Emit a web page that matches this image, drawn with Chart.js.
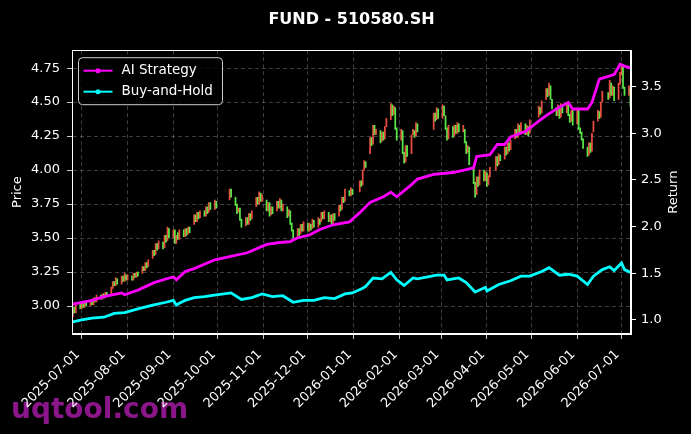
<!DOCTYPE html>
<html>
<head>
<meta charset="utf-8">
<script src="https://cdn.jsdelivr.net/npm/chart.js@4.4.0/dist/chart.umd.min.js"></script>
<style>
    html, body { margin: 0; padding: 0; background: #000; }
    #chart { display: block; }
</style>
</head>
<body>
<canvas id="chart" width="691" height="434"></canvas>
<script>
// Calendar
const firstDay = '2025-06-25'
const lastDay = '2026-07-07'
const holidays = [
    '2025-10-01', '2025-10-02', '2025-10-03', '2025-10-06', '2025-10-07', '2025-10-08',
    '2026-01-01', '2026-01-02',
    '2026-02-16', '2026-02-17', '2026-02-18', '2026-02-19', '2026-02-20', '2026-02-23',
    '2026-04-06', '2026-05-01', '2026-05-04', '2026-05-05', '2026-06-19'
]
const monthTicks = [
    '2025-07-01', '2025-08-01', '2025-09-01', '2025-10-01', '2025-11-01', '2025-12-01',
    '2026-01-01', '2026-02-01', '2026-03-01', '2026-04-01', '2026-05-01', '2026-06-01', '2026-07-01'
]
const priceTicks = [3.00, 3.25, 3.50, 3.75, 4.00, 4.25, 4.50, 4.75]
const returnTicks = [1.0, 1.5, 2.0, 2.5, 3.0, 3.5]

// Daily candles, one line per month
const opens = [
    2.92, 2.99, 2.95, 3.02,
    2.98, 3.02, 2.99, 3.03, 3.00, 3.03, 3.01, 3.06, 3.03, 3.08, 3.05, 3.09, 3.06, 3.10, 3.09, 3.13, 3.18, 3.15, 3.20, 3.16, 3.22, 3.18, 3.23,
    3.19, 3.22, 3.19, 3.24, 3.21, 3.25, 3.24, 3.29, 3.26, 3.32, 3.29, 3.35, 3.41, 3.38, 3.46, 3.42, 3.47, 3.43, 3.52, 3.48, 3.57,
    3.50, 3.56, 3.46, 3.54, 3.49, 3.56, 3.51, 3.57, 3.53, 3.58, 3.60, 3.67, 3.62, 3.69, 3.65, 3.70, 3.66, 3.73, 3.69, 3.76, 3.71, 3.77,
    3.78, 3.86, 3.80, 3.75, 3.69, 3.72, 3.64, 3.59, 3.65, 3.60, 3.68, 3.64, 3.73, 3.80, 3.75, 3.83, 3.77,
    3.78, 3.70, 3.76, 3.67, 3.73, 3.70, 3.77, 3.72, 3.78, 3.70, 3.73, 3.66, 3.70, 3.61, 3.56, 3.51, 3.57, 3.53, 3.60, 3.55,
    3.61, 3.55, 3.60, 3.57, 3.63, 3.58, 3.64, 3.62, 3.69, 3.64, 3.69, 3.62, 3.67, 3.61, 3.68, 3.66, 3.74, 3.71, 3.80, 3.77, 3.85, 3.81, 3.86,
    3.84, 3.92, 3.89, 4.00, 4.06, 4.12, 4.24, 4.19, 4.33, 4.26, 4.29, 4.21, 4.28, 4.23, 4.32, 4.37, 4.48, 4.41, 4.46, 4.31,
    4.22, 4.29, 4.13, 4.06, 4.18, 4.12, 4.26, 4.29, 4.25, 4.34, 4.30, 4.42, 4.37, 4.45,
    4.38, 4.47, 4.40, 4.31, 4.23, 4.32, 4.25, 4.33, 4.27, 4.34, 4.28, 4.30, 4.21, 4.13, 4.17, 4.02, 3.91, 3.82, 3.95, 3.89, 4.00, 3.92,
    3.98, 3.89, 3.95, 4.00, 4.10, 4.04, 4.11, 4.08, 4.17, 4.12, 4.20, 4.15, 4.23, 4.30, 4.24, 4.33, 4.28, 4.34, 4.26, 4.32, 4.27,
    4.39, 4.46, 4.42, 4.52, 4.60, 4.55, 4.62, 4.52, 4.46, 4.40, 4.47, 4.39, 4.48, 4.42, 4.49, 4.41, 4.36, 4.44,
    4.34, 4.44, 4.31, 4.28, 4.23, 4.17, 4.11, 4.20, 4.14, 4.28, 4.36, 4.43, 4.39, 4.50, 4.57, 4.53, 4.64, 4.55, 4.61, 4.52, 4.63,
    4.70, 4.76, 4.61, 4.55, 4.60
]
const closes = [
    2.98, 2.95, 3.01, 2.98,
    3.02, 2.99, 3.03, 3.00, 3.04, 3.01, 3.06, 3.03, 3.08, 3.05, 3.09, 3.06, 3.10, 3.07, 3.14, 3.18, 3.15, 3.21, 3.16, 3.22, 3.18, 3.24, 3.19,
    3.23, 3.19, 3.24, 3.21, 3.25, 3.22, 3.29, 3.26, 3.32, 3.28, 3.34, 3.41, 3.37, 3.46, 3.41, 3.48, 3.42, 3.52, 3.47, 3.58, 3.50,
    3.56, 3.46, 3.52, 3.49, 3.56, 3.51, 3.57, 3.52, 3.58, 3.54, 3.67, 3.62, 3.69, 3.64, 3.70, 3.66, 3.73, 3.68, 3.76, 3.71, 3.78, 3.72,
    3.86, 3.80, 3.74, 3.68, 3.72, 3.63, 3.58, 3.65, 3.60, 3.68, 3.63, 3.70, 3.80, 3.75, 3.84, 3.77, 3.82,
    3.70, 3.76, 3.66, 3.73, 3.68, 3.77, 3.72, 3.79, 3.70, 3.75, 3.65, 3.71, 3.60, 3.55, 3.50, 3.57, 3.52, 3.60, 3.55, 3.62,
    3.55, 3.61, 3.56, 3.64, 3.58, 3.65, 3.60, 3.69, 3.64, 3.70, 3.62, 3.67, 3.60, 3.68, 3.63, 3.74, 3.70, 3.80, 3.76, 3.86, 3.81, 3.87, 3.82,
    3.92, 3.88, 4.00, 4.07, 4.02, 4.24, 4.18, 4.33, 4.26, 4.30, 4.20, 4.28, 4.22, 4.32, 4.38, 4.49, 4.40, 4.47, 4.30, 4.22,
    4.30, 4.12, 4.05, 4.18, 4.10, 4.26, 4.30, 4.24, 4.35, 4.28, 4.42, 4.36, 4.46, 4.38,
    4.48, 4.40, 4.30, 4.22, 4.33, 4.24, 4.33, 4.27, 4.35, 4.28, 4.33, 4.20, 4.12, 4.18, 4.04, 3.90, 3.80, 3.95, 3.88, 4.00, 3.92, 3.99,
    3.88, 3.96, 4.02, 4.10, 4.03, 4.12, 4.07, 4.17, 4.11, 4.21, 4.14, 4.22, 4.30, 4.24, 4.34, 4.27, 4.35, 4.26, 4.33, 4.25, 4.37,
    4.47, 4.41, 4.51, 4.60, 4.54, 4.64, 4.52, 4.45, 4.40, 4.48, 4.38, 4.49, 4.42, 4.50, 4.40, 4.35, 4.44, 4.33,
    4.45, 4.30, 4.27, 4.22, 4.16, 4.10, 4.20, 4.13, 4.27, 4.36, 4.44, 4.38, 4.50, 4.58, 4.52, 4.66, 4.55, 4.62, 4.51, 4.64, 4.72,
    4.78, 4.60, 4.55, 4.62, 4.47
]

// Strategy curves (right axis)
const aiDates = [
    '2025-06-25', '2025-07-08', '2025-07-16', '2025-07-28', '2025-07-30', '2025-08-08', '2025-08-19', '2025-08-29',
    '2025-09-01', '2025-09-03', '2025-09-09', '2025-09-15', '2025-09-29', '2025-10-09', '2025-10-21', '2025-11-03',
    '2025-11-12', '2025-11-19', '2025-11-24', '2025-12-02', '2025-12-09', '2025-12-18', '2025-12-29', '2026-01-05',
    '2026-01-12', '2026-01-21', '2026-01-26', '2026-01-30', '2026-02-09', '2026-02-13', '2026-02-24', '2026-03-09',
    '2026-03-18', '2026-03-23', '2026-03-25', '2026-04-03', '2026-04-08', '2026-04-13', '2026-04-17', '2026-04-27',
    '2026-05-06', '2026-05-12', '2026-05-15', '2026-05-20', '2026-05-26', '2026-05-29', '2026-06-08', '2026-06-11',
    '2026-06-16', '2026-06-22', '2026-06-26', '2026-06-30', '2026-07-03', '2026-07-07'
]
const aiValues = [
    1.17, 1.21, 1.25, 1.29, 1.27, 1.32, 1.40, 1.45,
    1.46, 1.43, 1.52, 1.55, 1.645, 1.68, 1.72, 1.81,
    1.83, 1.84, 1.88, 1.91, 1.97, 2.02, 2.05, 2.15,
    2.26, 2.32, 2.37, 2.32, 2.45, 2.51, 2.56, 2.58,
    2.61, 2.63, 2.75, 2.77, 2.88, 2.88, 2.96, 3.02,
    3.13, 3.20, 3.23, 3.28, 3.33, 3.26, 3.26, 3.33,
    3.58, 3.61, 3.63, 3.74, 3.72, 3.70
]
const bhDates = [
    '2025-06-25', '2025-07-01', '2025-07-08', '2025-07-16', '2025-07-23', '2025-07-30', '2025-08-08', '2025-08-18',
    '2025-08-27', '2025-09-01', '2025-09-03', '2025-09-05', '2025-09-09', '2025-09-15', '2025-09-22', '2025-09-30',
    '2025-10-10', '2025-10-17', '2025-10-24', '2025-10-31', '2025-11-07', '2025-11-14', '2025-11-21', '2025-11-28',
    '2025-12-05', '2025-12-12', '2025-12-19', '2025-12-26', '2025-12-31', '2026-01-07', '2026-01-09', '2026-01-14',
    '2026-01-20', '2026-01-26', '2026-01-30', '2026-02-04', '2026-02-10', '2026-02-13', '2026-02-26', '2026-03-03',
    '2026-03-05', '2026-03-13', '2026-03-18', '2026-03-24', '2026-03-31', '2026-04-01', '2026-04-09', '2026-04-17',
    '2026-04-24', '2026-04-30', '2026-05-08', '2026-05-13', '2026-05-20', '2026-05-26', '2026-06-01', '2026-06-08',
    '2026-06-12', '2026-06-18', '2026-06-23', '2026-06-26', '2026-07-01', '2026-07-03', '2026-07-07'
]
const bhValues = [
    0.98, 1.00, 1.02, 1.03, 1.07, 1.08, 1.12, 1.16,
    1.19, 1.21, 1.16, 1.18, 1.21, 1.24, 1.25, 1.27,
    1.29, 1.22, 1.24, 1.28, 1.25, 1.26, 1.19, 1.21,
    1.21, 1.24, 1.23, 1.28, 1.29, 1.34, 1.36, 1.45,
    1.44, 1.51, 1.43, 1.37, 1.45, 1.44, 1.48, 1.48,
    1.43, 1.45, 1.40, 1.30, 1.35, 1.31, 1.38, 1.42,
    1.47, 1.47, 1.52, 1.56, 1.48, 1.49, 1.47, 1.38,
    1.47, 1.54, 1.57, 1.53, 1.61, 1.54, 1.51
]

const dayMs = 86400000
const origin = Date.UTC(2025, 6, 1)
const dayNum = (s) => {
    const [y, m, d] = s.split('-').map(Number)
    return (Date.UTC(y, m - 1, d) - origin) / dayMs
}

const tradingDays = []
for (let d = dayNum(firstDay); d <= dayNum(lastDay); d++) {
    const date = new Date(origin + d * dayMs)
    const wd = date.getUTCDay()
    if (wd === 0 || wd === 6 || holidays.includes(date.toISOString().slice(0, 10))) continue
    tradingDays.push(d)
}
if (tradingDays.length !== opens.length || opens.length !== closes.length) {
    console.log('length mismatch', tradingDays.length, opens.length, closes.length)
}

const candles = tradingDays.map((d, i) => ({ x: d, y: [opens[i], closes[i]] }))
const aiPoints = aiDates.map((s, i) => ({ x: dayNum(s), y: aiValues[i] }))
const bhPoints = bhDates.map((s, i) => ({ x: dayNum(s), y: bhValues[i] }))

const white = '#ffffff'
const gridColor = 'rgba(255, 255, 255, 0.3)'
const font = { family: 'DejaVu Sans', size: 13 }
// red = up, green = down (A-share convention)
const upColor = 'rgba(255, 85, 70, 0.9)'
const downColor = 'rgba(100, 255, 80, 0.9)'

const backdrop = {
    id: 'backdrop',
    beforeDraw: (chart) => {
        const ctx = chart.ctx
        ctx.save()
        ctx.fillStyle = '#000'
        ctx.fillRect(0, 0, chart.width, chart.height)
        ctx.fillStyle = '#8a168a'
        ctx.font = 'bold 28px "DejaVu Sans"'
        ctx.textBaseline = 'alphabetic'
        ctx.fillText('uqtool.com', 11, 418)
        ctx.restore()
    }
}

const frameAndLegend = {
    id: 'frameAndLegend',
    afterDraw: (chart) => {
        const ctx = chart.ctx
        const { left, top, right, bottom } = chart.chartArea
        ctx.save()
        ctx.strokeStyle = white
        ctx.lineWidth = 1
        ctx.strokeRect(Math.round(left) + 0.5, Math.round(top) + 0.5, Math.round(right - left) - 1, Math.round(bottom - top) - 1)

        // right axis label, reads bottom to top like the left one
        ctx.fillStyle = white
        ctx.font = '13px "DejaVu Sans"'
        ctx.textAlign = 'center'
        ctx.textBaseline = 'middle'
        ctx.translate(674, (top + bottom) / 2)
        ctx.rotate(-Math.PI / 2)
        ctx.fillText('Return', 0, 0)
        ctx.setTransform(1, 0, 0, 1, 0, 0)

        // legend box
        const lx = left + 6.5, ly = top + 7.5, lw = 144, lh = 47
        ctx.beginPath()
        ctx.roundRect(lx, ly, lw, lh, 4)
        ctx.fillStyle = 'rgba(0, 0, 0, 0.8)'
        ctx.fill()
        ctx.strokeStyle = '#cccccc'
        ctx.stroke()

        const items = [chart.data.datasets[0], chart.data.datasets[1]]
        ctx.textAlign = 'left'
        items.forEach((ds, i) => {
            const y = ly + 13 + i * 21
            ctx.strokeStyle = ds.borderColor
            ctx.lineWidth = 2
            ctx.beginPath()
            ctx.moveTo(lx + 5, y)
            ctx.lineTo(lx + 34, y)
            ctx.stroke()
            ctx.fillStyle = ds.borderColor
            ctx.beginPath()
            ctx.arc(lx + 19.5, y, 2.5, 0, Math.PI * 2)
            ctx.fill()
            ctx.fillStyle = white
            ctx.font = '13.5px "DejaVu Sans"'
            ctx.textBaseline = 'middle'
            ctx.fillText(ds.label, lx + 43, y)
        })
        ctx.restore()
    }
}

new Chart(document.getElementById('chart'), {
    type: 'bar',
    data: {
        datasets: [
            {
                type: 'line',
                label: 'AI Strategy',
                data: aiPoints,
                yAxisID: 'y2',
                borderColor: '#ff00ff',
                borderWidth: 2.8,
                pointRadius: 0,
                order: 0
            },
            {
                type: 'line',
                label: 'Buy-and-Hold',
                data: bhPoints,
                yAxisID: 'y2',
                borderColor: '#00ffff',
                borderWidth: 2.8,
                pointRadius: 0,
                order: 1
            },
            {
                label: 'Price',
                data: candles,
                yAxisID: 'y',
                barThickness: 1.1,
                borderWidth: 0,
                backgroundColor: (c) => c.raw && c.raw.y[1] >= c.raw.y[0] ? upColor : downColor,
                order: 2
            }
        ]
    },
    options: {
        responsive: false,
        animation: false,
        devicePixelRatio: 1,
        layout: { padding: 0 },
        plugins: {
            legend: { display: false },
            tooltip: { enabled: false },
            title: {
                display: true,
                fullSize: false,
                text: 'FUND - 510580.SH',
                color: white,
                font: { family: 'DejaVu Sans', size: 16, weight: 'bold' },
                padding: { top: 10, bottom: 21 }
            }
        },
        scales: {
            x: {
                type: 'linear',
                min: -6.56,
                max: 371.4,
                offset: false,
                afterBuildTicks: (s) => { s.ticks = monthTicks.map(t => ({ value: dayNum(t) })) },
                afterFit: (s) => { s.height = 100 },
                ticks: {
                    color: white,
                    font: font,
                    autoSkip: false,
                    maxRotation: 45,
                    minRotation: 45,
                    padding: 8,
                    labelOffset: -4,
                    callback: (v, i) => monthTicks[i]
                },
                grid: { offset: false, color: gridColor, lineWidth: 0.8, tickColor: white, tickLength: 5, tickBorderDash: [] },
                border: { color: white, dash: [4, 3] }
            },
            y: {
                position: 'left',
                min: 2.794,
                max: 4.882,
                afterBuildTicks: (s) => { s.ticks = priceTicks.map(v => ({ value: v })) },
                afterFit: (s) => { s.width = 72 },
                ticks: { color: white, font: font, padding: 7, callback: (v) => v.toFixed(2) },
                grid: { color: gridColor, lineWidth: 0.8, tickColor: white, tickLength: 5, tickBorderDash: [] },
                border: { color: white, dash: [4, 3] },
                title: { display: true, text: 'Price', color: white, font: font, padding: { top: 10, bottom: 0 } }
            },
            y2: {
                position: 'right',
                min: 0.85,
                max: 3.89,
                afterBuildTicks: (s) => { s.ticks = returnTicks.map(v => ({ value: v })) },
                afterFit: (s) => { s.width = 60 },
                ticks: { color: white, font: font, padding: 5, callback: (v) => v.toFixed(1) },
                grid: { drawOnChartArea: false, tickColor: white, tickLength: 5, tickBorderDash: [] },
                border: { color: white }
            }
        }
    },
    plugins: [backdrop, frameAndLegend]
})
</script>
</body>
</html>
